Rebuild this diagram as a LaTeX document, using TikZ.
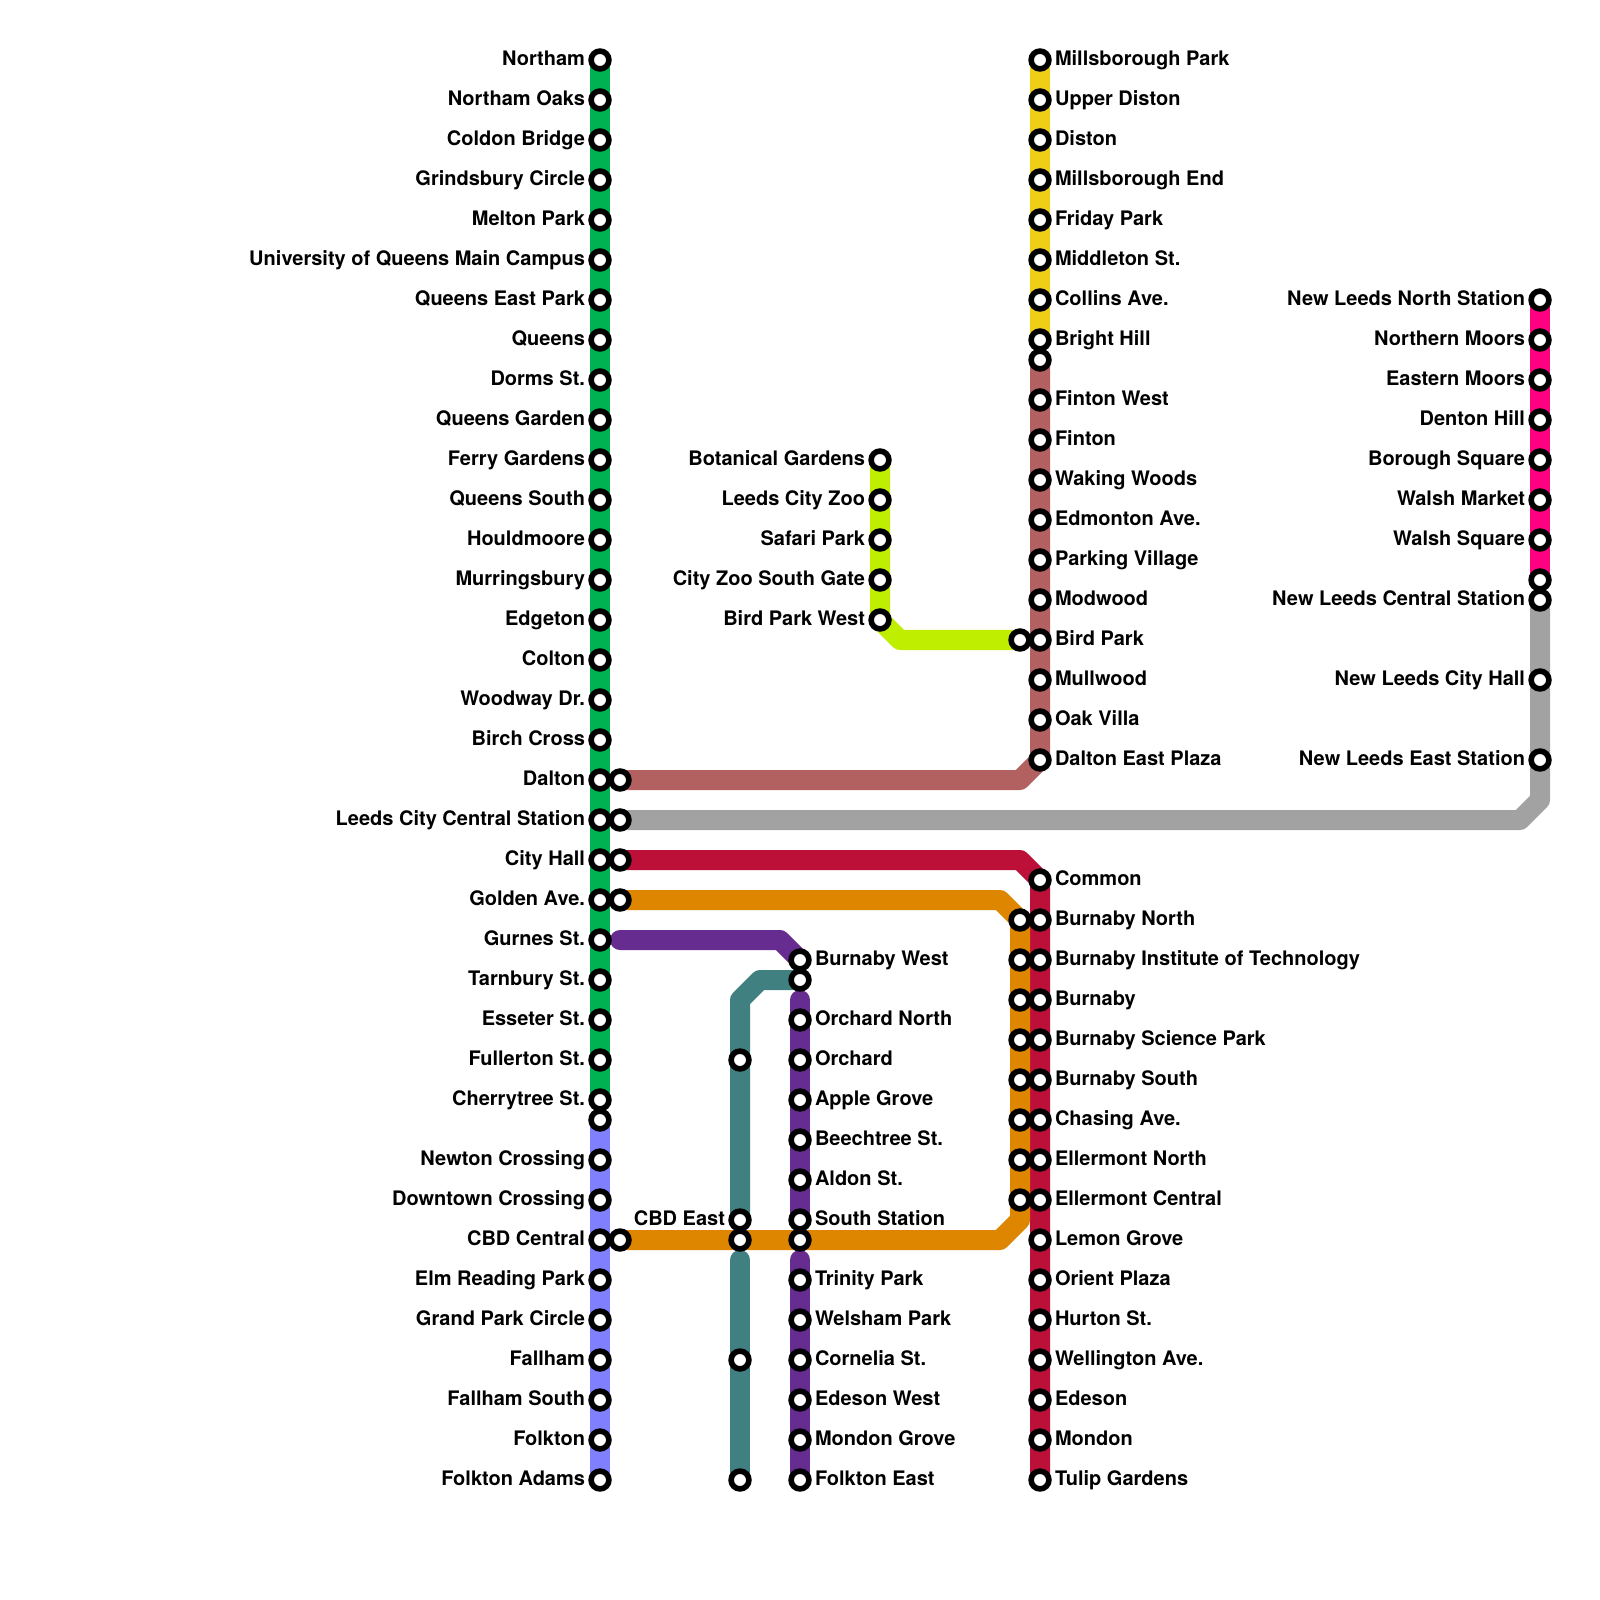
\documentclass[tikz,border=0pt]{standalone}
\usepackage{fontspec}
\setmainfont{TeX Gyre Heros}
\usetikzlibrary{backgrounds}
\definecolor{cgreen}{HTML}{00B251}
\definecolor{cperi}{HTML}{8080FF}
\definecolor{cteal}{HTML}{408080}
\definecolor{cpurple}{HTML}{662C90}
\definecolor{cred}{HTML}{BD1038}
\definecolor{corange}{HTML}{DF8600}
\definecolor{cbrown}{HTML}{B26060}
\definecolor{cgray}{HTML}{A2A2A2}
\definecolor{cpink}{HTML}{FF0080}
\definecolor{cyellow}{HTML}{F0CE15}
\definecolor{clime}{HTML}{BFEE00}
\tikzset{
  stn/.style={circle,draw=black,fill=white,line width=0.056cm,minimum size=0.178cm,inner sep=0pt,outer sep=0pt},
  rte/.style={line width=0.2cm,line join=round,line cap=round},
  txt/.style={font=\fontsize{5.69}{7}\selectfont\bfseries,inner sep=0pt,outer sep=0pt,text=black},
  ll/.style={txt,anchor=base east},
  rl/.style={txt,anchor=base west}
}
\begin{document}
\begin{tikzpicture}[x=0.01cm,y=-0.01cm]
\useasboundingbox (0,0) rectangle (1600,1600);
% Stations with labels
\foreach \y/\t in {60/Northam,100/Northam Oaks,140/Coldon Bridge,180/Grindsbury Circle,220/Melton Park,260/University of Queens Main Campus,300/Queens East Park,340/Queens,380/Dorms St.,420/Queens Garden,460/Ferry Gardens,500/Queens South,540/Houldmoore,580/Murringsbury,620/Edgeton,660/Colton,700/Woodway Dr.,740/Birch Cross,780/Dalton,820/Leeds City Central Station,860/City Hall,900/Golden Ave.,940/Gurnes St.,980/Tarnbury St.,1020/Esseter St.,1060/Fullerton St.,1100/Cherrytree St.,1160/Newton Crossing,1200/Downtown Crossing,1240/CBD Central,1280/Elm Reading Park,1320/Grand Park Circle,1360/Fallham,1400/Fallham South,1440/Folkton,1480/Folkton Adams}{
  \node[stn] (a\y) at (600,\y) {};
  \node[ll] (la\y) at (585,\y+5.5) {\t};
}
\node[stn] (a1120) at (600,1120) {};
\foreach \y in {780,820,860,900,1240}{\node[stn] (b\y) at (620,\y) {};}
\foreach \y in {1060,1220,1240,1360,1480}{\node[stn] (c\y) at (740,\y) {};}
\node[ll] (lc1220) at (725,1225.5) {CBD East};
\foreach \y/\t in {960/Burnaby West,1020/Orchard North,1060/Orchard,1100/Apple Grove,1140/Beechtree St.,1180/Aldon St.,1220/South Station,1280/Trinity Park,1320/Welsham Park,1360/Cornelia St.,1400/Edeson West,1440/Mondon Grove,1480/Folkton East}{
  \node[stn] (d\y) at (800,\y) {};
  \node[rl] (ld\y) at (815,\y+5.5) {\t};
}
\node[stn] (d980) at (800,980) {};
\node[stn] (d1240) at (800,1240) {};
\foreach \y/\t in {460/Botanical Gardens,500/Leeds City Zoo,540/Safari Park,580/City Zoo South Gate,620/Bird Park West}{
  \node[stn] (e\y) at (880,\y) {};
  \node[ll] (le\y) at (865,\y+5.5) {\t};
}
\foreach \y in {640,920,960,1000,1040,1080,1120,1160,1200}{\node[stn] (f\y) at (1020,\y) {};}
\foreach \y/\t in {60/Millsborough Park,100/Upper Diston,140/Diston,180/Millsborough End,220/Friday Park,260/Middleton St.,300/Collins Ave.,340/Bright Hill,400/Finton West,440/Finton,480/Waking Woods,520/Edmonton Ave.,560/Parking Village,600/Modwood,640/Bird Park,680/Mullwood,720/Oak Villa,760/Dalton East Plaza,880/Common,920/Burnaby North,960/Burnaby Institute of Technology,1000/Burnaby,1040/Burnaby Science Park,1080/Burnaby South,1120/Chasing Ave.,1160/Ellermont North,1200/Ellermont Central,1240/Lemon Grove,1280/Orient Plaza,1320/Hurton St.,1360/Wellington Ave.,1400/Edeson,1440/Mondon,1480/Tulip Gardens}{
  \node[stn] (g\y) at (1040,\y) {};
  \node[rl] (lg\y) at (1055,\y+5.5) {\t};
}
\node[stn] (g360) at (1040,360) {};
\foreach \y/\t in {300/New Leeds North Station,340/Northern Moors,380/Eastern Moors,420/Denton Hill,460/Borough Square,500/Walsh Market,540/Walsh Square,600/New Leeds Central Station,680/New Leeds City Hall,760/New Leeds East Station}{
  \node[stn] (h\y) at (1540,\y) {};
  \node[ll] (lh\y) at (1525,\y+5.5) {\t};
}
\node[stn] (h580) at (1540,580) {};
% Bend and free-end points
\coordinate (br1) at (1020,780);
\coordinate (gy1) at (1520,820);
\coordinate (gy2) at (1540,800);
\coordinate (rd1) at (1020,860);
\coordinate (or1) at (1000,900);
\coordinate (or2) at (1020,920);
\coordinate (or3) at (1000,1240);
\coordinate (or4) at (1020,1220);
\coordinate (pu0) at (620,940);
\coordinate (pu1) at (780,940);
\coordinate (pu2) at (800,1000);
\coordinate (pu3) at (800,1260);
\coordinate (te1) at (760,980);
\coordinate (te2) at (740,1000);
\coordinate (te3) at (740,1260);
\coordinate (li1) at (900,640);
\begin{scope}[on background layer]
\fill[white] (0,0) rectangle (1600,1600);
\draw[rte,cgreen] (a60.center) -- (a1100.center);
\draw[rte,cperi] (a1120.center) -- (a1480.center);
\draw[rte,cteal] (d980.center) -- (te1) -- (te2) -- (c1220.center);
\draw[rte,cteal] (te3) -- (c1480.center);
\draw[rte,cpurple] (pu0) -- (pu1) -- (d960.center);
\draw[rte,cpurple] (pu2) -- (d1220.center);
\draw[rte,cpurple] (pu3) -- (d1480.center);
\draw[rte,cbrown] (b780.center) -- (br1) -- (g760.center) -- (g360.center);
\draw[rte,cgray] (b820.center) -- (gy1) -- (gy2) -- (h600.center);
\draw[rte,cyellow] (g60.center) -- (g340.center);
\draw[rte,cpink] (h300.center) -- (h580.center);
\draw[rte,clime] (e460.center) -- (e620.center) -- (li1) -- (f640.center);
\draw[rte,cred] (b860.center) -- (rd1) -- (g880.center) -- (g1480.center);
\draw[rte,corange] (b900.center) -- (or1) -- (or2) -- (or4) -- (or3) -- (b1240.center);
\end{scope}
\end{tikzpicture}
\end{document}
